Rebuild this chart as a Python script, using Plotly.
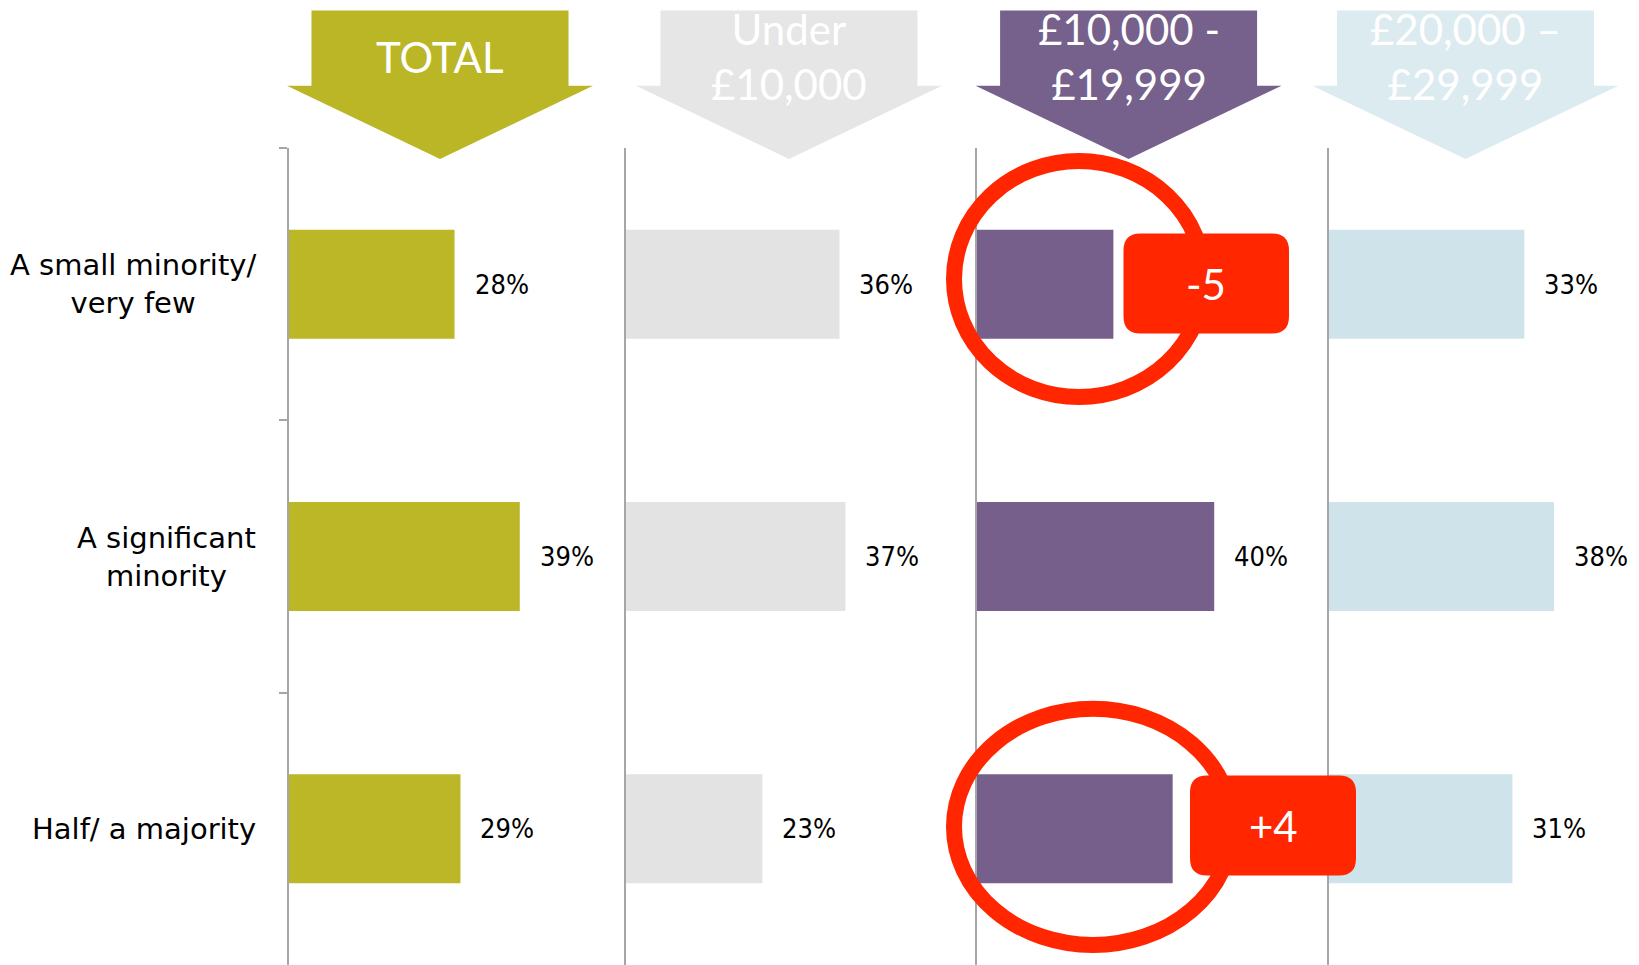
import plotly.graph_objects as go

# ---------------- data ----------------
categories = ["A small minority/<br>very few", "A significant<br>minority", "Half/ a majority"]
groups = ["TOTAL", "Under<br>£10,000", "£10,000 -<br>£19,999", "£20,000 –<br>£29,999"]
total_vals = [28, 39, 29]
under_10k_vals = [36, 37, 23]
k10_20_vals = [23, 40, 33]
k20_30_vals = [33, 38, 31]
series = [total_vals, under_10k_vals, k10_20_vals, k20_30_vals]
# highlighted cells (group index, category index): change vs TOTAL
highlights = [(2, 0), (2, 2)]

# ---------------- style ----------------
W, H = 1639, 965
PX_PER_PCT = 5.93
PLOT_TOP = 148
bar_colors = ["#BBB726", "#E3E3E3", "#76608B", "#CFE3EA"]
arrow_colors = ["#BAB626", "#E6E6E6", "#76608C", "#DCEBF0"]
axis_px = [288.5, 626, 977, 1328.6]
panel_right = [618.5, 956, 1307, 1639]
arrow_centers = [440, 789, 1128.6, 1465.5]
RED = "#FF2600"
AXIS_COL = "#A6A6A6"
LABEL_FONT = "DejaVu Sans"
PCT_FONT = "DejaVu Sans Condensed, Liberation Sans"
HEAD_FONT = "Lato, Open Sans, sans-serif"

# decoration geometry (pixels) for the highlights: circle box and callout box
hl_geom = [
    dict(circle=(954, 161, 1204, 397), box=(1123.5, 233.5, 1289, 333.5)),
    dict(circle=(954, 708.7, 1232, 945), box=(1190, 775.5, 1356, 875.5)),
]


def fx(px):
    return px / W


def fy(py):
    return 1 - py / H


fig = go.Figure()
annotations = []
shapes = []
ydom = [0, fy(PLOT_TOP)]

for i, vals in enumerate(series):
    n = "" if i == 0 else str(i + 1)
    fig.add_trace(go.Bar(
        x=vals, y=categories, orientation="h",
        xaxis="x" + n, yaxis="y" + n,
        marker=dict(color=bar_colors[i], line=dict(width=0)),
        width=0.4, hoverinfo="skip", showlegend=False,
    ))
    rng = (panel_right[i] - axis_px[i]) / PX_PER_PCT
    fig.layout["xaxis" + n] = dict(
        domain=[fx(axis_px[i]), fx(panel_right[i])], range=[0, rng],
        anchor="y" + n, visible=False, fixedrange=True,
    )
    yax = dict(
        domain=ydom, anchor="x" + n, type="category",
        categoryorder="array", categoryarray=categories,
        range=[2.5, -0.5], showline=True, linecolor=AXIS_COL, linewidth=2,
        showgrid=False, zeroline=False, showticklabels=False, fixedrange=True,
    )
    if i == 0:
        yax.update(ticks="outside", tickson="boundaries", ticklen=8,
                   tickcolor=AXIS_COL, tickwidth=2)
    else:
        yax.update(ticks="")
    fig.layout["yaxis" + n] = yax

    # value labels
    for j, v in enumerate(vals):
        if (i, j) in highlights:
            continue
        annotations.append(dict(
            x=v, y=categories[j], xref="x" + n, yref="y" + n,
            text=f"{v}%", showarrow=False, xanchor="left", yanchor="middle",
            xshift=18, font=dict(family=PCT_FONT, size=27, color="#000000"),
        ))

    # header arrow
    c = arrow_centers[i]
    pts = [(c - 128.5, 10.5), (c + 128.5, 10.5), (c + 128.5, 85.7), (c + 153, 85.7),
           (c, 159), (c - 153, 85.7), (c - 128.5, 85.7)]
    path = "M " + " L ".join(f"{fx(px):.5f},{fy(py):.5f}" for px, py in pts) + " Z"
    shapes.append(dict(type="path", xref="paper", yref="paper", path=path,
                       fillcolor=arrow_colors[i], line=dict(width=0), layer="below"))
    annotations.append(dict(
        x=fx(c), y=fy(57), xref="paper", yref="paper", text=groups[i],
        showarrow=False, xanchor="center", yanchor="middle", align="center",
        font=dict(family=HEAD_FONT, size=42, color="#FFFFFF"),
    ))

# category labels
for j, cat in enumerate(categories):
    annotations.append(dict(
        x=fx(258), y=cat, xref="paper", yref="y", text=cat, showarrow=False,
        xanchor="right", yanchor="middle", align="center",
        font=dict(family=LABEL_FONT, size=29, color="#000000"),
    ))

# highlight callouts


def rounded_rect(x0, y0, x1, y1, r):
    rx, ry = r / W, r / H
    X0, X1, Y0, Y1 = fx(x0), fx(x1), fy(y0), fy(y1)
    return (f"M {X0 + rx},{Y0} L {X1 - rx},{Y0} Q {X1},{Y0} {X1},{Y0 - ry} "
            f"L {X1},{Y1 + ry} Q {X1},{Y1} {X1 - rx},{Y1} L {X0 + rx},{Y1} "
            f"Q {X0},{Y1} {X0},{Y1 + ry} L {X0},{Y0 - ry} Q {X0},{Y0} {X0 + rx},{Y0} Z")


for (gi, cj), geo in zip(highlights, hl_geom):
    cx0, cy0, cx1, cy1 = geo["circle"]
    shapes.append(dict(type="circle", xref="paper", yref="paper",
                       x0=fx(cx0), x1=fx(cx1), y0=fy(cy1), y1=fy(cy0),
                       line=dict(color=RED, width=16), layer="above"))
    bx0, by0, bx1, by1 = geo["box"]
    shapes.append(dict(type="path", xref="paper", yref="paper",
                       path=rounded_rect(bx0, by0, bx1, by1, 17),
                       fillcolor=RED, line=dict(width=0), layer="above"))
    diff = series[gi][cj] - total_vals[cj]
    annotations.append(dict(
        x=fx((bx0 + bx1) / 2), y=fy((by0 + by1) / 2), xref="paper", yref="paper",
        text=f"{diff:+d}", showarrow=False, xanchor="center", yanchor="middle",
        font=dict(family=HEAD_FONT, size=42, color="#FFFFFF"),
    ))

fig.update_layout(
    width=W, height=H, margin=dict(l=0, r=0, t=0, b=0, pad=0),
    paper_bgcolor="#FFFFFF", plot_bgcolor="rgba(0,0,0,0)",
    bargap=0.6, shapes=shapes, annotations=annotations, showlegend=False,
)

fig.write_html("out.html", config={"displayModeBar": False},
               post_script="document.body.style.margin='0';document.body.style.overflow='hidden';")
